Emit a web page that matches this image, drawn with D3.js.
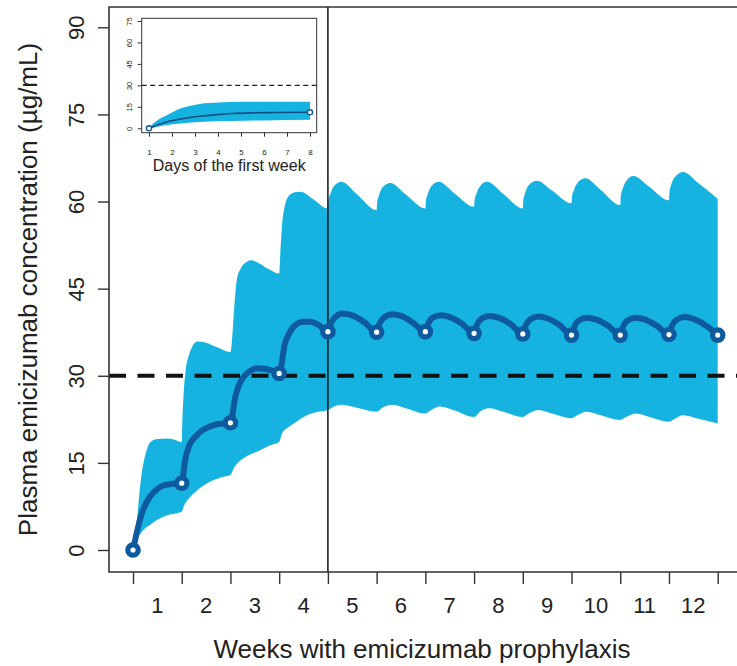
<!DOCTYPE html>
<html><head><meta charset="utf-8">
<script src="https://cdn.jsdelivr.net/npm/d3@7"></script>
<style>body{margin:0;background:#fff}svg{display:block}text{font-family:"Liberation Sans",Arial,sans-serif;fill:#222}</style>
</head><body><svg id="c" width="737" height="666"></svg>
<script>
// ---------- data (weeks, µg/mL) ----------
const weekTicks = [0,1,2,3,4,5,6,7,8,9,10,11,12];
const weekLabels = ["1","2","3","4","5","6","7","8","9","10","11","12"];
const yTicks = [0,15,30,45,60,75,90];
const threshold = 30;
const doseWeeks = [0,1,2,3,4,5,6,7,8,9,10,11,12];
const doseValues = [0,11.5,21.9,30.4,37.6,37.5,37.6,37.3,37.2,37.0,37.0,37.1,37.0];
const median = [
 [0,0],[0.075,2.9],[0.18,6.3],[0.35,9.2],[0.5,10.5],[0.62,11.1],[0.8,11.4],[1,11.5],
 [1.07,15.5],[1.15,17.9],[1.28,19.5],[1.42,20.6],[1.56,21.2],[1.75,21.7],[2,21.9],
 [2.1,26.4],[2.18,28.5],[2.27,29.8],[2.4,30.8],[2.55,31.3],[2.7,31.2],[2.85,30.9],[3,30.4],
 [3.12,35.6],[3.2,37.2],[3.29,38.4],[3.4,39.1],[3.5,39.3],[3.65,39.3],[3.8,38.8],[4,37.6],
 [4.06,39.0],[4.15,40.1],[4.3,40.7],[4.5,40.4],[4.75,39.2],[5,37.5],
 [5.06,39.0],[5.15,40.0],[5.33,40.6],[5.5,40.3],[5.75,39.1],[6,37.6],
 [6.06,39.0],[6.15,40.0],[6.33,40.4],[6.5,40.1],[6.75,39.0],[7,37.3],
 [7.06,38.8],[7.15,39.8],[7.33,40.3],[7.5,40.0],[7.75,38.9],[8,37.2],
 [8.06,38.7],[8.15,39.7],[8.33,40.2],[8.5,39.9],[8.75,38.8],[9,37.0],
 [9.06,38.5],[9.15,39.5],[9.33,40.0],[9.5,39.7],[9.75,38.6],[10,37.0],
 [10.06,38.5],[10.15,39.5],[10.33,40.0],[10.5,39.7],[10.75,38.6],[11,37.1],
 [11.06,38.6],[11.15,39.6],[11.33,40.1],[11.5,39.8],[11.75,38.7],[12,37.0]
];
const upper = [
 [0,0],[0.04,2.5],[0.09,6],[0.14,10.5],[0.19,13.8],[0.26,16.6],[0.36,18.6],[0.5,19.1],[0.7,19.2],[0.85,19.0],[1,18.6],
 [1.01,21.5],[1.04,27],[1.08,30.8],[1.15,33.6],[1.22,35.1],[1.32,35.9],[1.5,35.7],[1.7,35.0],[2,34.1],
 [2.03,36],[2.08,42],[2.13,46.5],[2.2,48.3],[2.3,49.4],[2.42,49.9],[2.6,49.3],[2.8,48.3],[3,47.6],
 [3.02,50.5],[3.06,56],[3.11,59],[3.2,61],[3.32,61.6],[3.44,61.7],[3.7,60.4],[4,58.8],
 [4.01,60.2],[4.05,61.3],[4.12,62.6],[4.28,63.4],[4.6,61.2],[5,58.5],
 [5.01,59.8],[5.05,61.1],[5.12,62.4],[5.28,63.2],[5.6,61.2],[6,58.8],
 [6.01,60.0],[6.05,61.3],[6.12,62.6],[6.27,63.4],[6.6,61.4],[7,59.1],
 [7.01,60.2],[7.05,61.4],[7.12,62.6],[7.26,63.4],[7.6,61.3],[8,58.8],
 [8.01,60.1],[8.05,61.5],[8.12,62.8],[8.29,63.6],[8.6,61.9],[9,59.7],
 [9.01,60.9],[9.05,62.0],[9.12,63.2],[9.28,64.0],[9.6,62.0],[10,59.4],
 [10.01,60.8],[10.05,62.2],[10.12,63.5],[10.27,64.4],[10.6,62.5],[11,60.2],
 [11.01,61.5],[11.05,63.0],[11.12,64.2],[11.29,65.1],[11.6,63.2],[12,60.5]
];
const lower = [
 [0,0],[0.05,1.2],[0.12,2.4],[0.22,3.5],[0.36,4.4],[0.5,5.2],[0.7,6.0],[1,6.6],
 [1.04,7.5],[1.15,8.9],[1.32,10.3],[1.59,11.8],[1.8,12.5],[2,12.9],
 [2.07,14.1],[2.15,15.0],[2.27,15.8],[2.45,16.6],[2.62,17.2],[2.8,18.0],[3,18.6],
 [3.06,20.1],[3.18,21.1],[3.3,21.8],[3.57,23.2],[3.8,23.8],[4,24.1],
 [4.1,24.6],[4.26,25.0],[4.55,24.6],[5,23.8],
 [5.12,24.5],[5.32,25.0],[5.6,24.4],[6,23.5],
 [6.12,24.1],[6.3,24.7],[6.6,24.0],[7,22.9],
 [7.12,23.8],[7.3,24.4],[7.6,23.8],[8,22.9],
 [8.12,23.5],[8.32,24.1],[8.6,23.5],[9,22.7],
 [9.12,23.2],[9.31,23.8],[9.6,23.2],[10,22.4],
 [10.12,22.9],[10.33,23.5],[10.6,22.9],[11,22.1],
 [11.12,22.6],[11.29,23.2],[11.6,22.6],[12,21.8]
];
// inset: first week, days 1..8
const insetDays = [1,2,3,4,5,6,7,8];
const insetYTicks = [0,15,30,45,60,75];
const insetMedian = [[1,0],[1.4,2.5],[1.8,4.6],[2.5,6.8],[3.2,8.4],[4,9.6],[4.6,10.3],[5.5,10.8],[6.5,11.0],[8,11.2]];
const insetUpper = [[1,0],[1.2,3.5],[1.45,6.5],[1.77,9.1],[2.1,12],[2.5,14.5],[3.2,17.0],[4,18.0],[5,18.5],[6,18.6],[7,18.6],[8,18.5]];
const insetLower = [[1,0],[1.3,0.9],[1.77,2.3],[2.5,3.6],[3.2,4.4],[4.6,5.1],[6,5.5],[8,5.9]];
const insetPoints = [[1,0],[8,11.2]];

// ---------- drawing ----------
const svg = d3.select("#c");
const BAND = "#17b3e0", DARK = "#0d5a9e";
const box = {l:109, t:7, r:760, b:572};
const x = d3.scaleLinear().domain([0,12]).range([133,717.7]);
const y = d3.scaleLinear().domain([0,90]).range([550,27.3]);

function bandPath(xs, ys, up, lo){
  const ln = d3.line().x(d=>xs(d[0])).y(d=>ys(d[1])).curve(d3.curveMonotoneX);
  const a = ln(up);
  const b = ln(lo.slice().reverse());
  return a + "L" + b.slice(1) + "Z";
}

svg.append("path").attr("d", bandPath(x,y,upper,lower)).attr("fill",BAND);

// inset background (covers band)
svg.append("rect").attr("x",box.l).attr("y",box.t).attr("width",327.7-box.l).attr("height",184-box.t).attr("fill","#fff");

// threshold dashed line
svg.append("line").attr("x1",box.l).attr("x2",737).attr("y1",y(threshold)).attr("y2",y(threshold))
  .attr("stroke","#111").attr("stroke-width",4).attr("stroke-dasharray","17,11.5");

// week-4 divider
svg.append("line").attr("x1",x(4)).attr("x2",x(4)).attr("y1",box.t).attr("y2",box.b)
  .attr("stroke","#111").attr("stroke-width",1.5);

// median
svg.append("path").datum(median)
  .attr("d", d3.line().x(d=>x(d[0])).y(d=>y(d[1])).curve(d3.curveMonotoneX))
  .attr("fill","none").attr("stroke",DARK).attr("stroke-width",6).attr("stroke-linejoin","round");
svg.selectAll("circle.dose").data(doseWeeks.map((w,i)=>[w,doseValues[i]])).join("circle").attr("class","dose")
  .attr("cx",d=>x(d[0])).attr("cy",d=>y(d[1])).attr("r",5.2)
  .attr("fill","#fff").attr("stroke",DARK).attr("stroke-width",5.2);

// frame
svg.append("path").attr("d",`M${box.r},${box.t}H${box.l}V${box.b}H${box.r}`)
  .attr("fill","none").attr("stroke","#333").attr("stroke-width",1.6);

// y axis
const yAxis = d3.axisLeft(y).tickValues(yTicks).tickSize(11).tickFormat(d3.format("d"));
const gy = svg.append("g").attr("transform",`translate(${box.l},0)`).call(yAxis);
gy.select(".domain").remove();
gy.selectAll(".tick line").attr("stroke","#333").attr("stroke-width",1.4);
gy.selectAll(".tick text").attr("font-size",22).attr("fill","#222")
  .attr("x",0).attr("dy",0).attr("text-anchor","middle")
  .attr("transform","translate(-25,0) rotate(-90)");

// x axis
const xAxis = d3.axisBottom(x).tickValues(weekTicks).tickSize(12).tickFormat("");
const gx = svg.append("g").attr("transform",`translate(0,${box.b})`).call(xAxis);
gx.select(".domain").remove();
gx.selectAll(".tick line").attr("stroke","#333").attr("stroke-width",1.4);
svg.append("g").selectAll("text").data(weekLabels).join("text")
  .attr("x",(d,i)=>x(i+0.5)).attr("y",613).attr("text-anchor","middle").attr("font-size",22).text(d=>d);

svg.append("text").attr("x",422).attr("y",658).attr("text-anchor","middle").attr("font-size",26)
  .text("Weeks with emicizumab prophylaxis");
svg.append("text").attr("transform",`translate(37,${(box.t+box.b)/2}) rotate(-90)`).attr("text-anchor","middle")
  .attr("font-size",26).text("Plasma emicizumab concentration (µg/mL)");

// ---------- inset ----------
const xi = d3.scaleLinear().domain([1,8]).range([149,310]);
const yi = d3.scaleLinear().domain([0,75]).range([128.3,21]);
const ib = {l:141.7, r:316.7, t:18.3, b:132.7};
svg.append("path").attr("d", bandPath(xi,yi,insetUpper,insetLower)).attr("fill",BAND);
svg.append("line").attr("x1",ib.l).attr("x2",ib.r).attr("y1",yi(threshold)).attr("y2",yi(threshold))
  .attr("stroke","#222").attr("stroke-width",1.1).attr("stroke-dasharray","5,3.5");
svg.append("path").datum(insetMedian)
  .attr("d", d3.line().x(d=>xi(d[0])).y(d=>yi(d[1])).curve(d3.curveMonotoneX))
  .attr("fill","none").attr("stroke","#124f86").attr("stroke-width",1.6);
svg.selectAll("circle.ip").data(insetPoints).join("circle").attr("class","ip")
  .attr("cx",d=>xi(d[0])).attr("cy",d=>yi(d[1])).attr("r",2.6)
  .attr("fill","#fff").attr("stroke","#0f5a96").attr("stroke-width",1.4);
svg.append("rect").attr("x",ib.l).attr("y",ib.t).attr("width",ib.r-ib.l).attr("height",ib.b-ib.t)
  .attr("fill","none").attr("stroke","#333").attr("stroke-width",1);
const giy = svg.append("g").attr("transform",`translate(${ib.l},0)`)
  .call(d3.axisLeft(yi).tickValues(insetYTicks).tickSize(4).tickFormat(d3.format("d")));
giy.select(".domain").remove();
giy.selectAll(".tick line").attr("stroke","#333");
giy.selectAll(".tick text").attr("font-size",7.5).attr("fill","#333").attr("x",0).attr("dy",0)
  .attr("text-anchor","middle").attr("transform","translate(-10,0) rotate(-90)");
const gix = svg.append("g").attr("transform",`translate(0,${ib.b})`)
  .call(d3.axisBottom(xi).tickValues(insetDays).tickSize(4).tickFormat(d3.format("d")));
gix.select(".domain").remove();
gix.selectAll(".tick line").attr("stroke","#333");
gix.selectAll(".tick text").attr("font-size",8).attr("fill","#333").attr("y",0).attr("dy",0)
  .attr("transform","translate(0,22)");
svg.append("text").attr("x",(ib.l+ib.r)/2).attr("y",171).attr("text-anchor","middle").attr("font-size",16)
  .text("Days of the first week");
</script></body></html>
